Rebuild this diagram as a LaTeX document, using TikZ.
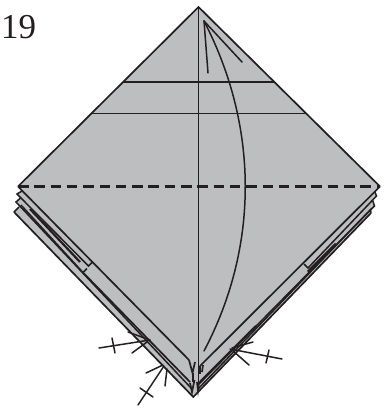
\documentclass[tikz,border=0pt]{standalone}
\usepackage{fontspec}
\setmainfont{Liberation Serif}
\definecolor{paper}{HTML}{BCBEC0}
\definecolor{ink}{HTML}{231F20}
\tikzset{
  fold/.style={draw=ink,line width=1.7pt,line join=miter},
  layer/.style={draw=ink,line width=1.5pt,line join=miter},
  thinl/.style={draw=ink,line width=0.8pt},
  midl/.style={draw=ink,line width=1.6pt},
  tick/.style={draw=ink,line width=1.5pt,line cap=round},
  pleat/.style={draw=ink,line width=1.7pt}
}
\begin{document}
\begin{tikzpicture}[x=1pt,y=-1pt]
\useasboundingbox (0,0) rectangle (389,412);
\coordinate (T) at (198.5,7);
\coordinate (L) at (18,186.5);
\coordinate (R) at (380,186.5);
\coordinate (B) at (193.3,397);
\coordinate (L2) at (17,194);
\coordinate (L3) at (16,202);
\coordinate (L4) at (14,212);
\coordinate (R2) at (376.5,196);
\coordinate (R3) at (374.5,206);
\coordinate (R4) at (371,213);
\coordinate (Ln2) at (22,191);
\coordinate (Ln3) at (20.5,198);
\coordinate (Ln4) at (19,207);
\coordinate (Rn2) at (375,192);
\coordinate (Rn3) at (372.5,200);
\coordinate (Rn4) at (370.5,210);
\fill[paper] (T) -- (R) -- (Rn2) -- (R2) -- (Rn3) -- (R3) -- (Rn4) -- (R4) -- (B) -- (L4) -- (Ln4) -- (L3) -- (Ln3) -- (L2) -- (Ln2) -- (L) -- cycle;
% outline
\draw[fold] (L) -- (T) -- (R);
\draw[fold] (L4) -- (B) -- (R4);
\draw[layer] (Ln2) -- (L2) -- (88.5,266) -- (92.5,262);
\draw[layer] (Ln3) -- (L3) -- (192,389);
\draw[layer] (Ln4) -- (L4);
\draw[layer] (Rn2) -- (R2) -- (308,268) -- (304,264);
\draw[layer] (Rn3) -- (R3) -- (199,384);
\draw[layer] (Rn4) -- (R4);
% left layers
\draw[fold] (L) -- (189,360);
\draw[layer] (21,205) -- (83,272.5) -- (87,268.5);
\draw[fold] (83,272.5) -- (190,382);
\draw[line width=2.2pt,draw=ink] (30,209) -- (80,262);
% right layers
\draw[fold] (R) -- (200,366);
\draw[layer] (371,209) -- (198,389);
\draw[line width=3pt,draw=ink] (308,272) -- (336,244);
\draw[line width=2.2pt,draw=ink] (200,382) -- (256,326);
% centre
\draw[thinl] (T) -- (198.5,390);
\draw[thinl] (91.6,113) -- (306,113);
\draw[midl] (123,82) -- (274.5,82);
\draw[draw=ink,line width=2.2pt,dash pattern=on 10.5pt off 5.8pt] (L) -- (R);
% top marks
\draw[tick] (204,21) -- (208,73);
\draw[tick] (204,21) -- (242,62);
\draw[tick] (204,21) .. controls (258,125) and (260,245) .. (204,351);
% bottom marks
\draw[tick] (99,348) -- (150,340);
\draw[tick] (128,332) -- (150,340);
\draw[tick] (132,353) -- (147,342);
\draw[tick] (112,338) -- (115,353);
\draw[tick] (138,405) -- (164,366);
\draw[tick] (146,373) -- (163,365);
\draw[tick] (165,386) -- (167,369);
\draw[tick] (140,388) -- (153,397);
\draw[tick] (282,359) -- (230,349);
\draw[tick] (253,342) -- (232,348);
\draw[tick] (249,365) -- (232,350);
\draw[tick] (269,350) -- (266,363);
% little pleats
\draw[pleat] (189,360) -- (192.5,373) -- (195,362);
\draw[pleat] (193,373) -- (193,382);
\draw[pleat] (190,383) -- (192,392) -- (194.5,380);
\draw[pleat] (200,366) -- (200,374);
\draw[pleat] (203,365) -- (202,372);
\draw[pleat] (197,382) -- (198,390) -- (199,382);
\node[anchor=base west,inner sep=0pt,font=\fontsize{35}{35}\selectfont,text=ink] (num) at (1,38) {19};
\end{tikzpicture}
\end{document}
